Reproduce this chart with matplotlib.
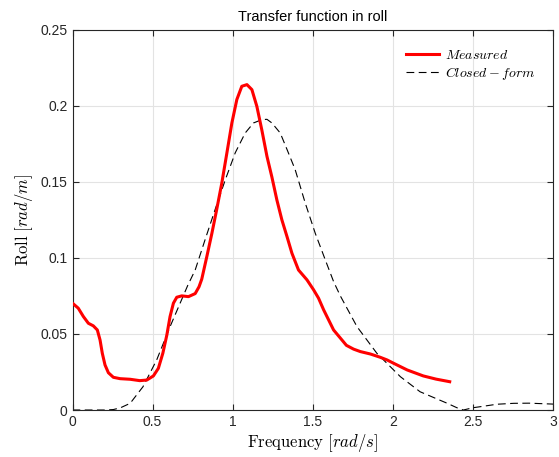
import matplotlib
matplotlib.use("Agg")
import matplotlib.pyplot as plt

meas_w = [0.0, 0.036, 0.068, 0.099, 0.13, 0.155, 0.172, 0.186, 0.203, 0.224,
          0.255, 0.297, 0.36, 0.42, 0.464, 0.505, 0.536, 0.564, 0.589, 0.609,
          0.63, 0.651, 0.682, 0.724, 0.766, 0.79, 0.807, 0.839, 0.87, 0.90,
          0.932, 0.964, 0.995, 1.026, 1.057, 1.089, 1.12, 1.151, 1.182, 1.214,
          1.245, 1.276, 1.307, 1.339, 1.37, 1.411, 1.464, 1.505, 1.536, 1.568,
          1.63, 1.71, 1.755, 1.797, 1.86, 1.92, 1.964, 2.005, 2.09, 2.19,
          2.27, 2.355]
meas_roll = [0.0702, 0.0669, 0.0614, 0.057, 0.0553, 0.0526, 0.046, 0.0373,
             0.0296, 0.0245, 0.0215, 0.0206, 0.0202, 0.0193, 0.0197, 0.0224,
             0.0274, 0.0373, 0.0493, 0.0614, 0.0702, 0.0741, 0.075, 0.0745,
             0.0765, 0.081, 0.086, 0.101, 0.116, 0.1316, 0.149, 0.169, 0.1886,
             0.204, 0.2127, 0.2138, 0.2105, 0.1995, 0.184, 0.1667, 0.153,
             0.138, 0.125, 0.114, 0.103, 0.092, 0.0855, 0.079, 0.0735, 0.0658,
             0.0526, 0.0425, 0.040, 0.0384, 0.0368, 0.0347, 0.0329, 0.0307,
             0.0263, 0.0224, 0.0203, 0.0186]

# Closed-form response
cf_w = [0.0, 0.2, 0.255, 0.30, 0.36, 0.44, 0.526, 0.61, 0.72, 0.766, 0.828,
        0.89, 0.953, 1.016, 1.078, 1.13, 1.182, 1.214, 1.245, 1.297, 1.34,
        1.39, 1.453, 1.516, 1.578, 1.63, 1.672, 1.776, 1.90, 2.047, 2.17,
        2.34, 2.40, 2.44, 2.50, 2.547, 2.65, 2.755, 2.85, 3.0]
cf_roll = [0.0, 0.0, 0.0003, 0.0015, 0.0044, 0.0153, 0.033, 0.055, 0.082,
           0.092, 0.112, 0.1316, 0.151, 0.169, 0.182, 0.1886, 0.1908, 0.191,
           0.1886, 0.182, 0.171, 0.158, 0.136, 0.116, 0.0987, 0.0844, 0.075,
           0.0548, 0.0373, 0.0219, 0.012, 0.0044, 0.0015, 0.0, 0.0015, 0.0022,
           0.0038, 0.0044, 0.0045, 0.0039]

xticks = [0, 0.5, 1, 1.5, 2, 2.5, 3]
xticklabels = ["0", "0.5", "1", "1.5", "2", "2.5", "3"]
yticks = [0, 0.05, 0.1, 0.15, 0.2, 0.25]
yticklabels = ["0", "0.05", "0.1", "0.15", "0.2", "0.25"]

plt.rcParams["font.family"] = ["Liberation Sans", "DejaVu Sans"]
plt.rcParams["mathtext.fontset"] = "cm"

fig = plt.figure(figsize=(5.59, 4.57), dpi=100)
ax = fig.add_axes([0.1297, 0.1028, 0.8596, 0.8326])

ax.plot(meas_w, meas_roll, color="#ff0000", lw=2.2, label=r"$Measured$",
        zorder=3, solid_joinstyle="round")
ax.plot(cf_w, cf_roll, color="black", lw=0.8, ls=(0, (7, 4)),
        label=r"$Closed-form$", zorder=2)

ax.set_xlim(0, 3)
ax.set_ylim(0, 0.25)
ax.set_xticks(xticks)
ax.set_xticklabels(xticklabels)
ax.set_yticks(yticks)
ax.set_yticklabels(yticklabels)

ax.grid(True, color="#e3e3e3", lw=0.8)
ax.set_axisbelow(True)
for s in ax.spines.values():
    s.set_color("#262626")
    s.set_linewidth(0.8)
ax.tick_params(direction="in", top=True, right=True, length=4, width=0.8,
               colors="#262626", labelsize=10)

ax.set_title("Transfer function in roll", fontsize=10.5, color="black", pad=6)
ax.set_xlabel(r"$\mathrm{Frequency}\ [rad/s]$", fontsize=12, labelpad=2)
ax.set_ylabel(r"$\mathrm{Roll}\ [rad/m]$", fontsize=12, labelpad=4)

leg = ax.legend(loc="upper right", frameon=False, fontsize=10,
                handlelength=2.4, borderaxespad=0.9, labelspacing=0.25,
                handletextpad=0.4)

fig.savefig("out.png", dpi=100)
